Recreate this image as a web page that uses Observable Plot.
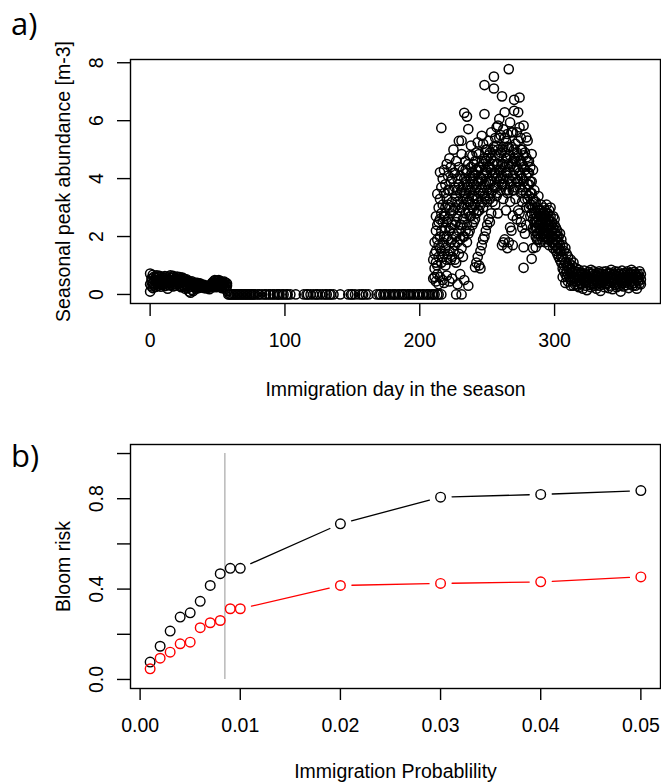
<!DOCTYPE html>
<html><head><meta charset="utf-8">
<script src="https://cdn.jsdelivr.net/npm/d3@7"></script>
<script src="https://cdn.jsdelivr.net/npm/@observablehq/plot@0.6"></script>
<style>
html,body{margin:0;padding:0;background:#fff;}
#wrap{position:relative;width:661px;height:782px;overflow:hidden;background:#fff;}
#pa{position:absolute;left:0;top:0;}
#pb{position:absolute;left:0;top:400px;}
#pa svg,#pb svg{display:block;}
.tag{position:absolute;left:11px;font-family:"Open Sans",sans-serif;font-size:31px;line-height:1;color:#000;}
</style></head><body>
<div id="wrap"><div id="pa"></div><div id="pb"></div><div class="tag" style="top:8px">a)</div><div class="tag" style="top:440px">b)</div></div>
<script>
// ---- Panel a: seasonal peak abundance vs immigration day ----
// each row: [day, value, value, ...]
const earlyByDay = [
[0,0.72,0.35,0.10],[1,0.55,0.28,0.45],[2,0.68,0.40,0.22],[3,0.50,0.31,0.62],[4,0.45,0.58,0.26],
[5,0.66,0.38,0.49],[6,0.52,0.30,0.60],[7,0.42,0.64,0.35],[8,0.55,0.27,0.47],[9,0.61,0.40,0.33],
[10,0.50,0.36,0.57],[11,0.44,0.63,0.29],[12,0.58,0.38,0.48],[13,0.35,0.52,0.20],[14,0.62,0.45,0.31],
[15,0.50,0.66,0.40],[16,0.57,0.34,0.46],[17,0.64,0.42,0.28],[18,0.53,0.37,0.60],[19,0.47,0.30,0.56],
[20,0.62,0.44,0.35],[21,0.51,0.39,0.58],[22,0.45,0.60,0.30],[23,0.55,0.41,0.25],[24,0.50,0.34,0.58],
[25,0.43,0.55,0.28],[26,0.48,0.36,0.20],[27,0.52,0.31,0.42],[28,0.40,0.22,0.47],[29,0.35,0.10,0.44],
[30,0.42,0.28,0.06],[31,0.38,0.16,0.45],[32,0.30,0.40,0.12],[33,0.36,0.25,0.41],[34,0.32,0.20,0.38],
[35,0.34,0.26,0.40],[36,0.30,0.36,0.22],[37,0.33,0.27,0.38],[38,0.29,0.35,0.24],[39,0.31,0.26],
[40,0.28,0.33,0.22],[41,0.25,0.30],[42,0.27,0.21],[43,0.24,0.30],[44,0.18,0.28],[45,0.26,0.33],
[46,0.32,0.40,0.24],[47,0.45,0.30,0.36],[48,0.40,0.50,0.28],[49,0.36,0.46,0.25],[50,0.48,0.33,0.40],
[51,0.42,0.30,0.50],[52,0.38,0.45,0.27],[53,0.44,0.34,0.22],[54,0.30,0.41,0.36],[55,0.37,0.26,0.44],
[56,0.40,0.32,0.20],[57,0.30,0.38,0.12]
];
// days whose seasonal peak abundance is 0
const zeroDays = [58,59,60,61,62,63,64,65,66,67,68,69,70,71,72,73,74,75,76,77,78,80,81,83,85,86,88,89,91,92,94,95,96,98,99,101,102,104,108,
114,116,117,119,121,123,124,126,128,130,131,133,134,136,141,147,149,150,152,155,157,158,160,162,
168,170,171,173,174,175,177,178,180,181,182,184,185,187,188,189,191,192,193,195,196,198,199,200,202,203,205,206,207,209,210,211,213,214,216];
const bloomByDay = [
[210,0.55,1.2],[211,0.6,1.8,0.9,1.4],[212,2.7,1.5,0.45,2.2,1.1],[213,3.47,1.0,1.9,0.7,2.4],[214,2.5,1.3,3.0,0.35,1.7],
[215,4.22,2.0,1.6,3.3,0.6,2.6],[216,5.75,2.8,1.1,3.7,2.2,1.5],[217,3.1,1.8,4.0,2.5,0.5,1.3],[218,3.5,1.4,2.7,4.3,0.4,2.0],
[219,2.3,3.8,1.6,3.0,1.0,2.7],[220,4.5,2.0,3.3,1.2,0.65,2.5],[221,3.6,2.6,1.9,4.1,1.4,3.1],[222,4.7,3.0,2.2,1.5,0.45,3.6],
[223,3.9,2.8,4.4,1.8,1.2,2.3],[224,3.2,2.4,4.0,1.3,0.55,1.9],[225,5.0,3.6,2.1,2.9,1.5,4.2],[226,4.2,3.0,1.7,3.7,2.4,1.2],
[227,3.4,4.6,2.5,0.0,1.1,2.0],[228,4.0,2.7,3.2,0.35,1.8,3.6],[229,5.3,3.8,2.2,4.4,1.4,3.1],[230,3.5,4.1,2.9,0.7,1.9,2.4],
[231,4.85,3.0,5.31,0.0,2.4,3.6,1.6],[232,3.7,4.3,2.6,3.3,2.0,1.3],[233,6.27,4.0,3.1,2.0,0.5,3.5,2.6],[234,4.6,3.5,2.8,3.9,2.2,4.3],
[235,6.14,4.2,3.3,2.4,3.8,1.8],[236,5.71,3.7,4.5,2.9,0.3,3.2,2.1],[237,4.0,3.2,4.8,2.2,3.6,2.7],[238,5.14,4.4,3.6,2.7,3.1,4.0],
[239,4.79,3.9,3.0,4.2,3.4,2.4],[240,4.5,3.4,2.5,3.8,4.1,2.9],[241,4.1,3.1,0.94,4.6,3.6,2.6],[242,4.9,3.7,2.8,1.1,4.3,3.3],
[243,5.25,4.3,3.3,1.3,3.9,2.9],[244,4.85,3.9,2.9,1.0,4.4,3.5],[245,4.4,3.6,1.5,0.9,4.0,3.1],[246,5.48,4.0,3.2,1.7,4.6,3.7],
[247,5.2,4.5,3.5,1.9,4.1,3.0],[248,7.23,6.23,4.2,3.4,2.0,4.7,3.8],[249,5.0,3.9,2.2,4.6,3.3,4.3],[250,4.7,3.6,2.4,4.2,3.2,5.0],
[251,5.3,4.4,2.6,3.9,3.4,4.8],[252,4.9,3.8,2.5,4.4,3.3],[253,5.6,4.3,2.8,3.5,4.7,3.9],[254,5.0,4.1,3.2,4.5,3.6],[255,7.52,7.11,4.6,3.7,4.2,5.1],
[256,5.4,4.2,3.1,4.8,3.7],[257,5.77,5.14,4.0,3.4,4.5,3.7],[258,5.83,4.5,2.8,4.1,3.5,5.0],[259,6.06,4.8,3.9,4.3,5.4],[260,5.5,4.3,3.6,4.9,4.0],
[261,6.84,5.0,4.1,1.7,4.5,3.8],[262,5.7,4.5,3.3,1.8,4.0,5.1],[263,6.29,4.9,3.8,1.9,4.4,5.4],[264,5.3,4.2,2.9,4.7,3.6],
[265,5.54,4.7,3.5,1.6,4.2,5.1],[266,7.78,5.08,4.0,1.8,4.5,3.6],[267,5.94,4.4,3.2,2.32,4.8,3.8],[268,5.1,3.9,2.2,4.5,5.6],
[269,5.6,4.6,2.72,1.7,4.1,3.6],[270,6.72,6.34,4.3,3.6,5.0,4.7],[271,5.2,4.0,3.3,4.6,3.7],[272,5.6,4.4,2.6,4.9,3.9],
[273,6.29,4.8,3.9,2.9,4.3,5.3],[274,6.80,5.77,4.2,2.8,4.6,3.7],[275,5.4,4.6,3.5,2.5,4.1,5.0],[276,5.0,4.0,3.2,2.3,4.5,3.6],
[277,5.83,4.4,1.63,0.92,3.9,4.8],[278,4.9,3.7,2.1,4.3,3.3],[279,5.42,4.73,3.5,2.4,4.1,3.0],[280,5.31,4.2,3.3,3.8,4.6],
[281,4.6,3.8,3.0,4.2,3.4],[282,4.4,3.5,2.7,3.9,3.1],[283,4.85,3.9,1.23,3.1,3.5,2.8],[284,4.3,3.3,2.6,1.6,3.0,2.3],
[285,3.6,2.8,2.2,3.2,2.5],[286,3.2,2.5,1.63,2.0,2.8,2.3],[287,3.0,2.7,2.3,1.9,2.5,2.1],[288,3.4,2.6,2.1,2.9,2.4,1.9],[289,2.9,2.4,1.8,2.7,2.2],
[290,3.1,2.7,2.2,2.0,2.5,2.9],[291,2.8,2.5,1.9,2.3,2.1,2.7],[292,3.0,2.3,2.6,2.0,2.8,2.2],[293,2.7,2.2,1.8,2.5,2.0,2.9],[294,3.1,2.5,2.1,2.8,2.3],
[295,2.8,2.3,1.9,2.6,2.1,2.4],[296,2.6,2.1,1.7,2.4,1.9,2.9],[297,3.0,2.4,2.0,2.7,2.2],[298,2.5,2.2,1.8,2.4,2.0],[299,2.7,2.0,1.6,2.3,1.8],
[300,2.4,2.1,1.7,1.9,2.6],[301,2.3,1.9,1.5,2.1,1.7],[302,2.2,1.8,1.4,2.0,1.6],[303,2.0,1.6,1.3,1.8],[304,2.1,1.7,1.2,1.5],
[305,1.9,1.5,1.1,1.3],[306,1.7,1.3,0.9,0.6],[307,1.5,1.2,0.8,1.0],[308,1.6,1.1,0.7,0.4],[309,1.4,1.0,0.8,0.6],
[310,1.3,1.0,0.7,0.45],[311,1.07,0.85,0.6],[312,1.2,0.9,0.5,0.3],[313,1.0,0.75,0.45],[314,1.1,0.8,0.55,0.3]
];
const lateByDay = [
[315,0.8,0.55,0.35],[316,0.7,0.45,0.9],[317,0.62,0.3,0.78],[318,0.85,0.5,0.25],[319,0.6,0.4,0.72],
[320,0.75,0.35,0.55],[321,0.5,0.68,0.2],[322,0.82,0.45,0.6],[323,0.4,0.7,0.3],[324,0.65,0.5,0.15],
[325,0.78,0.42,0.58],[326,0.55,0.33,0.7],[327,0.62,0.85,0.25],[328,0.48,0.72,0.35],[329,0.8,0.55,0.4],
[330,0.6,0.3,0.7],[331,0.45,0.66,0.2],[332,0.74,0.5,0.38],[333,0.58,0.8,0.3],[334,0.4,0.65,0.12],
[335,0.7,0.52,0.34],[336,0.6,0.44,0.78],[337,0.5,0.25,0.68],[338,0.8,0.57,0.4],[339,0.62,0.36,0.72],
[340,0.46,0.7,0.22],[341,0.75,0.55,0.3],[342,0.6,0.42,0.85],[343,0.5,0.68,0.18],[344,0.72,0.4,0.58],
[345,0.55,0.8,0.33],[346,0.64,0.45,0.25],[347,0.78,0.5,0.36],[348,0.6,0.3,0.7],[349,0.45,0.66,0.1],
[350,0.82,0.55,0.38],[351,0.58,0.7,0.28],[352,0.5,0.4,0.75],[353,0.68,0.32,0.55],[354,0.6,0.8,0.45],
[355,0.52,0.7,0.22],[356,0.75,0.42,0.6],[357,0.58,0.35,0.85],[358,0.68,0.48,0.3],[359,0.55,0.78,0.4],
[360,0.62,0.3,0.72],[361,0.5,0.66,0.2],[362,0.7,0.45,0.58],[363,0.6,0.38,0.8],[364,0.52,0.7,0.35]
];
const dayTicks = [0, 100, 200, 300];
const abundanceTicks = [0, 2, 4, 6, 8];

// ---- Panel b: bloom risk vs immigration probability ----
const probability = [0.001,0.002,0.003,0.004,0.005,0.006,0.007,0.008,0.009,0.010,0.020,0.030,0.040,0.050];
const bloomRiskBlack = [0.077,0.147,0.214,0.276,0.295,0.346,0.416,0.468,0.492,0.492,0.689,0.807,0.819,0.836];
const bloomRiskRed   = [0.047,0.094,0.121,0.158,0.165,0.229,0.251,0.261,0.313,0.313,0.416,0.425,0.432,0.454];
const thresholdProbability = 0.00846;
const probabilityTicks = [0, 0.01, 0.02, 0.03, 0.04, 0.05];
const probabilityTickLabels = ["0.00","0.01","0.02","0.03","0.04","0.05"];
const riskTicks = [0, 0.2, 0.4, 0.6, 0.8, 1.0];
const riskTickLabels = ["0.0","","0.4","","0.8",""];

const font = '"Liberation Sans", Arial, Helvetica, sans-serif';
const rows = [];
for (const [d, ...vals] of earlyByDay) for (const v of vals) rows.push({day: d, abundance: v});
for (const d of zeroDays) rows.push({day: d, abundance: 0});
for (const [d, ...vals] of bloomByDay) for (const v of vals) rows.push({day: d, abundance: v});
for (const [d, ...vals] of lateByDay) for (const v of vals) rows.push({day: d, abundance: v});

const axisStyle = {stroke: "black", strokeWidth: 1.4, fontSize: 19.5, labelArrow: "none", labelAnchor: "center"};

const chartA = Plot.plot({
  width: 661, height: 400,
  marginLeft: 130, marginRight: 1, marginTop: 59, marginBottom: 97,
  style: {fontFamily: font, fontSize: "19.5px", color: "black", background: "white", overflow: "visible"},
  x: {domain: [-14.56, 378.56]},
  y: {domain: [-0.312, 8.112]},
  marks: [
    Plot.dot(rows, {x: "day", y: "abundance", r: 4.6, stroke: "black", strokeWidth: 1.5, fill: "none"}),
    Plot.frame({stroke: "black", strokeWidth: 1.4}),
    Plot.axisX(dayTicks, {...axisStyle, tickSize: 13, tickPadding: 17, tickFormat: d => String(d),
      label: "Immigration day in the season", labelOffset: 92}),
    Plot.axisY(abundanceTicks, {...axisStyle, tickSize: 13, tickPadding: 15, tickRotate: -90, tickFormat: d => String(d),
      label: "Seasonal peak abundance [m-3]", labelOffset: 74})
  ]
});
document.getElementById("pa").append(chartA);

const pts = [];
const segs = [];
[["black", bloomRiskBlack], ["red", bloomRiskRed]].forEach(([color, vals]) => {
  vals.forEach((v, i) => {
    pts.push({p: probability[i], risk: v, color});
    if (i < vals.length - 1) segs.push({x1: probability[i], y1: v, x2: probability[i + 1], y2: vals[i + 1], color});
  });
});

const chartB = Plot.plot({
  width: 661, height: 382,
  marginLeft: 130, marginRight: 1, marginTop: 44, marginBottom: 94,
  style: {fontFamily: font, fontSize: "19.5px", color: "black", background: "white", overflow: "visible"},
  x: {domain: [-0.00096, 0.05196]},
  y: {domain: [-0.04, 1.04]},
  marks: [
    Plot.ruleX([thresholdProbability], {y1: 0, y2: 1, stroke: "#bdbdbd", strokeWidth: 1.6}),
    Plot.arrow(segs, {x1: "x1", y1: "y1", x2: "x2", y2: "y2", stroke: "color", strokeWidth: 1.3, headLength: 0, inset: 11.5}),
    Plot.dot(pts, {x: "p", y: "risk", r: 4.8, stroke: "color", strokeWidth: 1.4, fill: "none"}),
    Plot.frame({stroke: "black", strokeWidth: 1.4}),
    Plot.axisX(probabilityTicks, {...axisStyle, tickSize: 12, tickPadding: 18,
      tickFormat: d => probabilityTickLabels[Math.round(d * 100)],
      label: "Immigration Probablility", labelOffset: 89}),
    Plot.axisY(riskTicks, {...axisStyle, tickSize: 13, tickPadding: 15, tickRotate: -90,
      tickFormat: d => riskTickLabels[Math.round(d * 5)],
      label: "Bloom risk", labelOffset: 74})
  ],
  color: {type: "identity"}
});
document.getElementById("pb").append(chartB);
</script>
</body></html>
